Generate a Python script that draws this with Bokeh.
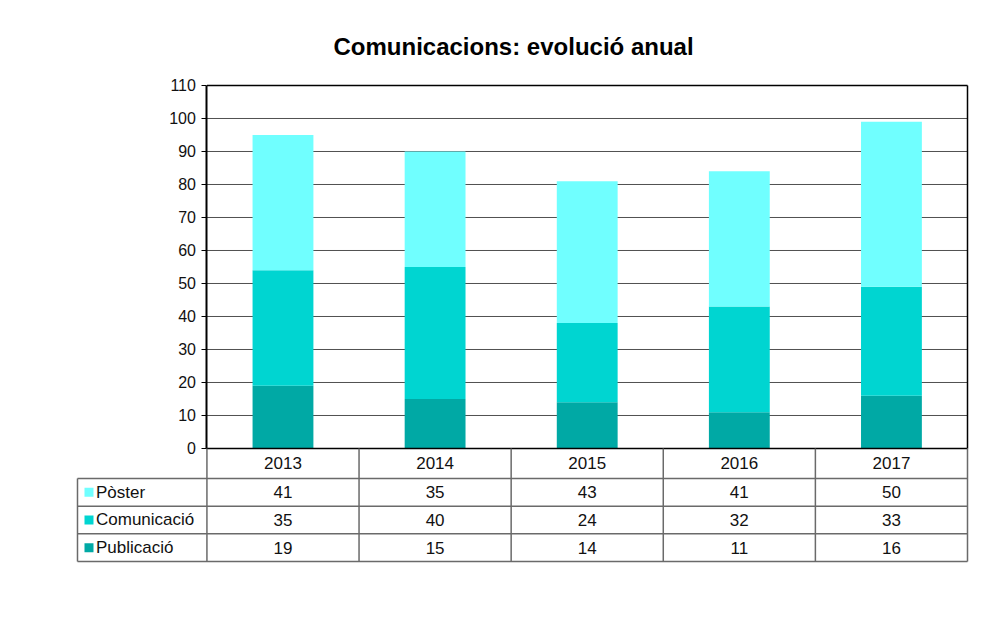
from bokeh.plotting import figure
from bokeh.models import Range1d, FixedTicker, ColumnDataSource, Title
from bokeh.core.properties import value
from bokeh.embed import file_html
from bokeh.resources import INLINE

# ---- data ----
years = ["2013", "2014", "2015", "2016", "2017"]
publicacio = [19, 15, 14, 11, 16]
comunicacio = [35, 40, 24, 32, 33]
poster = [41, 35, 43, 41, 50]
series_keys = ["publicacio", "comunicacio", "poster"]          # bottom -> top
series_names = ["Publicació", "Comunicació", "Pòster"]
series_colors = ["#00a9a5", "#00d5d1", "#70ffff"]
y_ticks = list(range(0, 111, 10))
chart_title = "Comunicacions: evolució anual"

FONT = "Liberation Sans"

# ---- geometry (pixels) ----
COL_PX = 152.2          # width of one year column
UNIT_PX = 3.3           # pixels per value unit
LEFT_COL_PX = 129.5     # width of the legend column of the table
HEADER_PX = 30.0
ROW_PX = 27.67
PAD = 2.0
PAD_TOP = 10.0

n_cols = len(years)
n_rows = len(series_keys)
table_px = HEADER_PX + n_rows * ROW_PX

xl = -LEFT_COL_PX / COL_PX
x_start = xl - PAD / COL_PX
x_end = n_cols + PAD / COL_PX
y_top = y_ticks[-1]
y_end = y_top + PAD_TOP / UNIT_PX
y_bottom = -table_px / UNIT_PX
y_start = y_bottom - PAD / UNIT_PX

frame_w = int(round((x_end - x_start) * COL_PX))
frame_h = int(round((y_end - y_start) * UNIT_PX))
LEFT_B = 75
TOP_B = 75
RIGHT_B = 11
BOTTOM_B = 30

x_pos = [i + 0.5 for i in range(n_cols)]
src = ColumnDataSource(dict(x=x_pos, publicacio=publicacio,
                            comunicacio=comunicacio, poster=poster))

p = figure(x_range=Range1d(x_start, x_end), y_range=Range1d(y_start, y_end),
           frame_width=frame_w, frame_height=frame_h,
           output_backend="svg", toolbar_location=None,
           x_axis_location=None,
           min_border_left=LEFT_B, min_border_right=RIGHT_B,
           min_border_top=TOP_B, min_border_bottom=BOTTOM_B)
p.outline_line_color = None
p.grid.visible = False

# gridlines
grid_y = y_ticks[1:-1]
p.segment(x0=[0] * len(grid_y), y0=grid_y, x1=[n_cols] * len(grid_y), y1=grid_y,
          line_color="#505050", line_width=1)

# bars
p.vbar_stack(series_keys, x="x", width=0.4, color=series_colors,
             line_color=None, source=src)

# chart outline (top, bottom, right)
p.segment(x0=[0, 0, n_cols], y0=[y_top, 0, 0], x1=[n_cols, n_cols, n_cols],
          y1=[y_top, 0, y_top], line_color="black", line_width=1.5)

# y axis at x = 0
ax = p.yaxis[0]
ax.fixed_location = 0
ax.bounds = (0, y_top)
ax.ticker = FixedTicker(ticks=y_ticks)
ax.minor_tick_line_color = None
ax.major_tick_in = 0
ax.major_tick_out = 5
ax.major_tick_line_color = "black"
ax.axis_line_color = "black"
ax.axis_line_width = 2
ax.major_label_standoff = 6
ax.major_label_text_font = FONT
ax.major_label_text_font_size = "16px"
ax.major_label_text_color = "#111111"

# title
t_ = Title(text=chart_title, align="left", offset=258,
           text_font=FONT, text_font_size="24px", text_font_style="bold",
           text_color="black", standoff=32)
p.add_layout(t_, "above")

# ---- data table ----
row_bounds = [0.0, -HEADER_PX / UNIT_PX] + [
    -(HEADER_PX + (k + 1) * ROW_PX) / UNIT_PX for k in range(n_rows)]
TL = "#6a6a6a"
# horizontal lines (below header)
hy = row_bounds[1:]
p.segment(x0=[xl] * len(hy), y0=hy, x1=[n_cols] * len(hy), y1=hy,
          line_color=TL, line_width=1.5)
# vertical lines
vx = [float(i) for i in range(n_cols + 1)]
p.segment(x0=vx, y0=[0.0] * len(vx), x1=vx, y1=[y_bottom] * len(vx),
          line_color=TL, line_width=1.5)
p.segment(x0=[xl], y0=[row_bounds[1]], x1=[xl], y1=[y_bottom],
          line_color=TL, line_width=1.5)

TXT = dict(text_font=value(FONT), text_font_size="17px", text_color="#111111",
           text_baseline="middle")
hdr_y = (row_bounds[0] + row_bounds[1]) / 2
p.text(x=x_pos, y=[hdr_y] * n_cols, text=years, text_align="center", **TXT)

all_vals = dict(publicacio=publicacio, comunicacio=comunicacio, poster=poster)
table_order = list(reversed(range(n_rows)))   # Pòster, Comunicació, Publicació
for ri, si in enumerate(table_order):
    key = series_keys[si]
    yrow = (row_bounds[ri + 1] + row_bounds[ri + 2]) / 2
    p.text(x=x_pos, y=[yrow] * n_cols, text=[str(v) for v in all_vals[key]],
           text_align="center", **TXT)
    p.scatter(x=[xl + 11.5 / COL_PX], y=[yrow], marker="square", size=9,
              color=series_colors[si], line_color=None)
    p.text(x=[xl + 18.5 / COL_PX], y=[yrow], text=[series_names[si]],
           text_align="left", **TXT)

open("out.html", "w").write(file_html(p, INLINE))
